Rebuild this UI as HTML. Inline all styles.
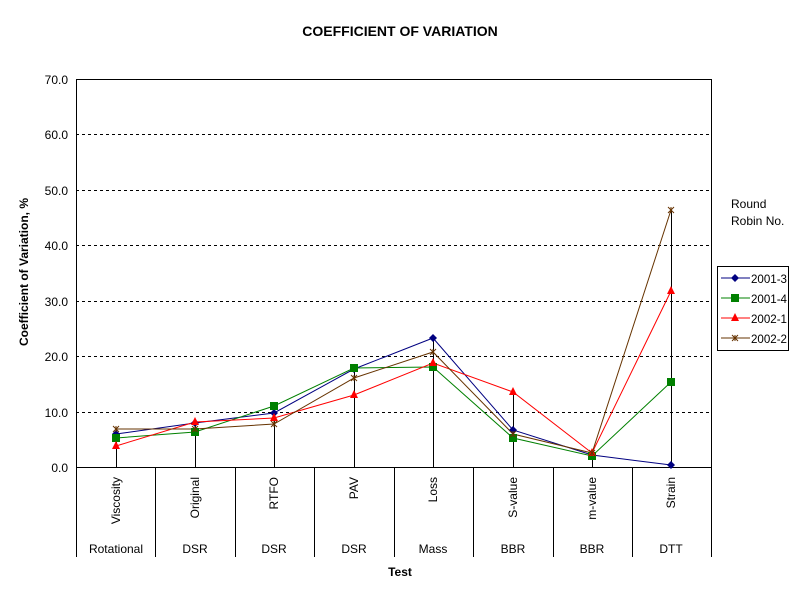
<!DOCTYPE html>
<html><head><style>body{margin:0;background:#fff}</style></head><body>
<svg width="800" height="600" xmlns="http://www.w3.org/2000/svg" font-family="Liberation Sans, Arial, sans-serif">
<defs><g id="ast" stroke="#663300" stroke-width="1"><line x1="-3" y1="-3" x2="3" y2="3"/><line x1="-3" y1="3" x2="3" y2="-3"/><line x1="0" y1="-3" x2="0" y2="3"/></g></defs>
<rect width="800" height="600" fill="#fff"/>
<text x="400" y="36" text-anchor="middle" font-size="14" font-weight="bold">COEFFICIENT OF VARIATION</text>
<g stroke="#000" stroke-dasharray="3,3" stroke-width="1">
<line x1="76" y1="412.5" x2="711" y2="412.5"/><line x1="76" y1="356.5" x2="711" y2="356.5"/>
<line x1="76" y1="301.5" x2="711" y2="301.5"/><line x1="76" y1="245.5" x2="711" y2="245.5"/>
<line x1="76" y1="190.5" x2="711" y2="190.5"/><line x1="76" y1="134.5" x2="711" y2="134.5"/>
</g>
<g stroke="#000" fill="none">
<polyline points="76.5,79.5 711.5,79.5 711.5,467.5"/>
<line x1="76.5" y1="79" x2="76.5" y2="557"/>
<line x1="76" y1="467.5" x2="711" y2="467.5"/>
<line x1="155.5" y1="467" x2="155.5" y2="557"/><line x1="235.5" y1="467" x2="235.5" y2="557"/>
<line x1="314.5" y1="467" x2="314.5" y2="557"/><line x1="394.5" y1="467" x2="394.5" y2="557"/>
<line x1="473.5" y1="467" x2="473.5" y2="557"/><line x1="553.5" y1="467" x2="553.5" y2="557"/>
<line x1="632.5" y1="467" x2="632.5" y2="557"/><line x1="711.5" y1="467" x2="711.5" y2="557"/>
<line x1="116.5" y1="429" x2="116.5" y2="467"/><line x1="195.5" y1="422" x2="195.5" y2="467"/>
<line x1="274.5" y1="406" x2="274.5" y2="467"/><line x1="354.5" y1="368" x2="354.5" y2="467"/>
<line x1="433.5" y1="338" x2="433.5" y2="467"/><line x1="513.5" y1="392" x2="513.5" y2="467"/>
<line x1="592.5" y1="453" x2="592.5" y2="467"/><line x1="671.5" y1="210" x2="671.5" y2="467"/>
</g>
<g font-size="12" text-anchor="end">
<text x="68" y="84">70.0</text><text x="68" y="139">60.0</text><text x="68" y="195">50.0</text>
<text x="68" y="250">40.0</text><text x="68" y="306">30.0</text><text x="68" y="361">20.0</text>
<text x="68" y="417">10.0</text><text x="68" y="472">0.0</text>
</g>
<text transform="translate(28,272) rotate(-90)" text-anchor="middle" font-size="12" font-weight="bold">Coefficient of Variation, %</text>
<g font-size="12" text-anchor="end">
<text transform="translate(120,477) rotate(-90)">Viscosity</text>
<text transform="translate(199,477) rotate(-90)">Original</text>
<text transform="translate(278,477) rotate(-90)">RTFO</text>
<text transform="translate(358,477) rotate(-90)">PAV</text>
<text transform="translate(437,477) rotate(-90)">Loss</text>
<text transform="translate(517,477) rotate(-90)">S-value</text>
<text transform="translate(596,477) rotate(-90)">m-value</text>
<text transform="translate(675,477) rotate(-90)">Strain</text>
</g>
<g font-size="12" text-anchor="middle">
<text x="116" y="553">Rotational</text><text x="195" y="553">DSR</text><text x="274" y="553">DSR</text>
<text x="354" y="553">DSR</text><text x="433" y="553">Mass</text><text x="513" y="553">BBR</text>
<text x="592" y="553">BBR</text><text x="671" y="553">DTT</text>
</g>
<text x="400" y="576" text-anchor="middle" font-size="12" font-weight="bold">Test</text>
<g fill="none" stroke-width="1">
<polyline stroke="#000080" points="116,434 195,423 274,413 354,369 433,338 513,430 592,455 671,465"/>
<polyline stroke="#008000" points="116,438 195,432 274,406 354,368 433,367 513,438 592,456 671,382"/>
<polyline stroke="#ff0000" points="116,446 195,422 274,418 354,395 433,363 513,392 592,453 671,291"/>
<polyline stroke="#663300" points="116,429 195,429 274,424 354,378 433,352 513,434 592,453 671,210"/>
</g>
<g fill="#000080">
<path d="M116,430l4,4l-4,4l-4,-4z"/><path d="M195,419l4,4l-4,4l-4,-4z"/><path d="M274,409l4,4l-4,4l-4,-4z"/><path d="M354,365l4,4l-4,4l-4,-4z"/><path d="M433,334l4,4l-4,4l-4,-4z"/><path d="M513,426l4,4l-4,4l-4,-4z"/><path d="M592,451l4,4l-4,4l-4,-4z"/><path d="M671,461l4,4l-4,4l-4,-4z"/>
</g>
<g fill="#008000">
<rect x="112" y="434" width="8" height="8"/><rect x="191" y="428" width="8" height="8"/><rect x="270" y="402" width="8" height="8"/><rect x="350" y="364" width="8" height="8"/><rect x="429" y="363" width="8" height="8"/><rect x="509" y="434" width="8" height="8"/><rect x="588" y="452" width="8" height="8"/><rect x="667" y="378" width="8" height="8"/>
</g>
<g fill="#ff0000">
<path d="M116,441l4,8h-8z"/><path d="M195,417l4,8h-8z"/><path d="M274,413l4,8h-8z"/><path d="M354,390l4,8h-8z"/><path d="M433,358l4,8h-8z"/><path d="M513,387l4,8h-8z"/><path d="M592,448l4,8h-8z"/><path d="M671,286l4,8h-8z"/>
</g>
<use href="#ast" x="116" y="429"/><use href="#ast" x="195" y="429"/><use href="#ast" x="274" y="424"/><use href="#ast" x="354" y="378"/><use href="#ast" x="433" y="352"/><use href="#ast" x="513" y="434"/><use href="#ast" x="592" y="453"/><use href="#ast" x="671" y="210"/>
<text x="731" y="208" font-size="12">Round</text>
<text x="731" y="225" font-size="12">Robin No.</text>
<rect x="717.5" y="266.5" width="71" height="84" fill="#fff" stroke="#000"/>
<g font-size="12">
<line x1="721" y1="278" x2="750" y2="278" stroke="#000080"/><path d="M735,274l4,4l-4,4l-4,-4z" fill="#000080"/><text x="751" y="283" textLength="36" lengthAdjust="spacingAndGlyphs">2001-3</text>
<line x1="721" y1="298" x2="750" y2="298" stroke="#008000"/><rect x="731" y="294" width="8" height="8" fill="#008000"/><text x="751" y="303" textLength="36" lengthAdjust="spacingAndGlyphs">2001-4</text>
<line x1="721" y1="318" x2="750" y2="318" stroke="#ff0000"/><path d="M735,313l4,8h-8z" fill="#ff0000"/><text x="751" y="323" textLength="36" lengthAdjust="spacingAndGlyphs">2002-1</text>
<line x1="721" y1="338" x2="750" y2="338" stroke="#663300"/><use href="#ast" x="735" y="338"/><text x="751" y="343" textLength="36" lengthAdjust="spacingAndGlyphs">2002-2</text>
</g>
</svg>
</body></html>
